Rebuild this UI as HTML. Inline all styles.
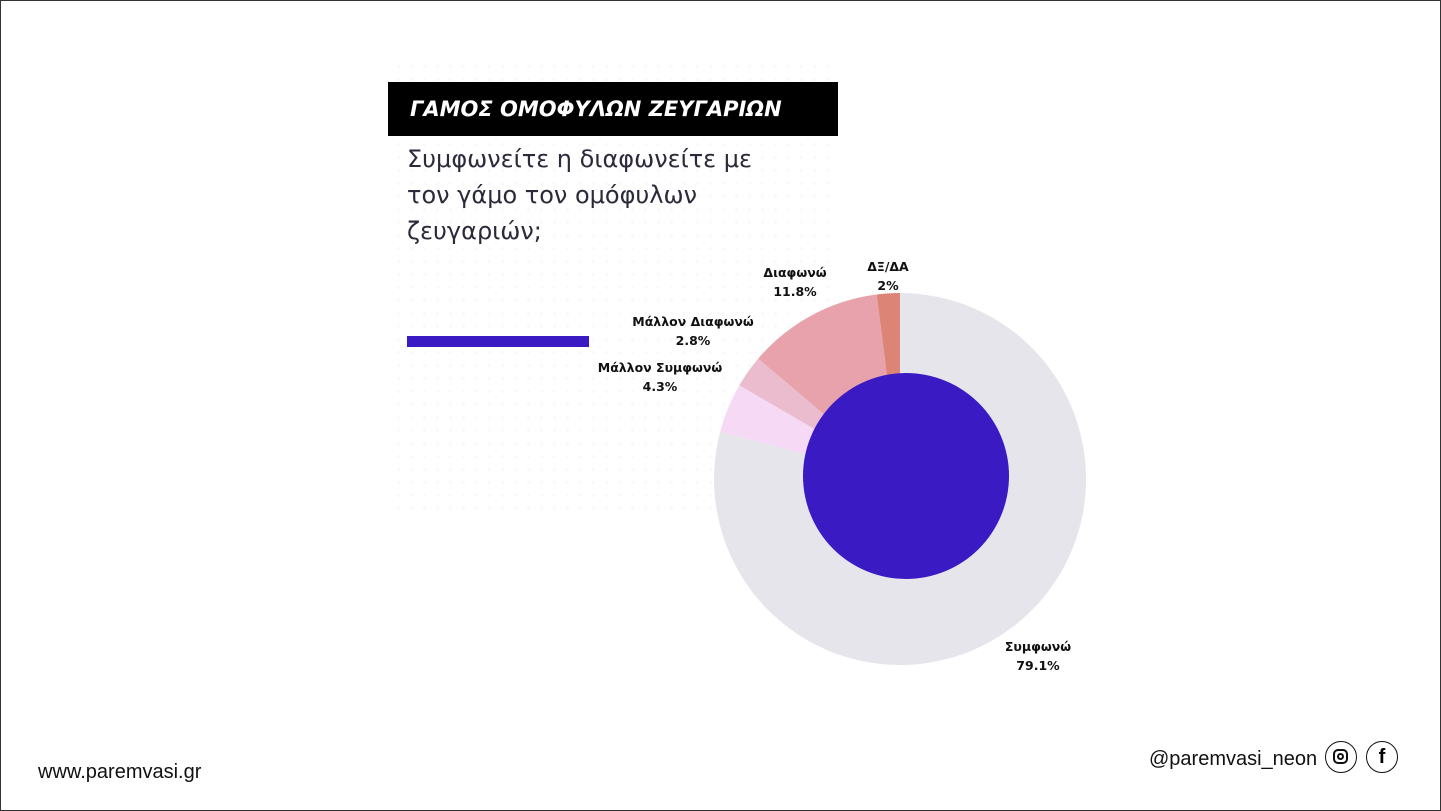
<!DOCTYPE html>
<html><head><meta charset="utf-8"><style>
html,body{margin:0;padding:0;}
body{width:1441px;height:811px;position:relative;background:#fff;overflow:hidden;font-family:"Liberation Sans","DejaVu Sans",sans-serif;}
.frame{position:absolute;left:0;top:0;width:1439px;height:809px;border:1px solid #333;}
.bg{position:absolute;left:392px;top:60px;width:446px;height:460px;background:radial-gradient(circle,#f1f1f3 1.5px,transparent 2px) 0 0/13px 13px;opacity:.4;}
.title{position:absolute;left:388px;top:82px;width:450px;height:54px;background:#000;color:#fff;font-family:"DejaVu Sans",sans-serif;font-weight:bold;font-style:italic;font-size:21px;line-height:54px;padding-left:22px;box-sizing:border-box;}
.sub{position:absolute;left:407px;top:141px;font-family:"DejaVu Sans",sans-serif;font-size:24px;line-height:36px;color:#2a2a3a;}
.bar{position:absolute;left:407px;top:336px;width:182px;height:11px;background:#3a1ac3;}
.lbl{position:absolute;font-family:"DejaVu Sans",sans-serif;font-weight:bold;font-size:12.5px;line-height:19px;text-align:center;color:#111;transform:translateX(-50%);white-space:nowrap;}
.ft{position:absolute;font-size:20px;color:#111;}
.ic{position:absolute;top:741px;width:32px;height:32px;border:1.5px solid #111;border-radius:50%;box-sizing:border-box;}
</style></head><body>
<div class="frame"></div>
<div class="bg"></div>
<div class="title">ΓΑΜΟΣ ΟΜΟΦΥΛΩΝ ΖΕΥΓΑΡΙΩΝ</div>
<div class="sub">Συμφωνείτε η διαφωνείτε με<br>τον γάμο τον ομόφυλων<br>ζευγαριών;</div>
<div class="bar"></div>
<svg style="position:absolute;left:0;top:0" width="1441" height="811">
<path d="M900,479 L900,293 A186,186 0 1 1 720.2,431.6 Z" fill="#e6e5ec"/>
<path d="M900,479 L720.2,431.6 A186,186 0 0 1 739.3,385.3 Z" fill="#f6d9f4"/>
<path d="M900,479 L739.3,385.3 A186,186 0 0 1 758.2,358.6 Z" fill="#ebbccd"/>
<path d="M900,479 L758.2,358.6 A186,186 0 0 1 876.7,294.5 Z" fill="#e8a2ac"/>
<path d="M900,479 L876.7,294.5 A186,186 0 0 1 900,293 Z" fill="#dc8577"/>
<circle cx="906" cy="476" r="103" fill="#3a1ac3"/>
</svg>
<div class="lbl" style="left:795px;top:263px">Διαφωνώ<br>11.8%</div>
<div class="lbl" style="left:888px;top:257px">ΔΞ/ΔΑ<br>2%</div>
<div class="lbl" style="left:693px;top:312px">Μάλλον Διαφωνώ<br>2.8%</div>
<div class="lbl" style="left:660px;top:358px">Μάλλον Συμφωνώ<br>4.3%</div>
<div class="lbl" style="left:1038px;top:637px">Συμφωνώ<br>79.1%</div>
<div class="ft" style="left:38px;top:761px">www.paremvasi.gr</div>
<div class="ft" style="left:1149px;top:748px">@paremvasi_neon</div>
<div class="ic" style="left:1325px"><div style="position:absolute;left:7px;top:7px;width:15px;height:15px;border:2px solid #111;border-radius:5px;box-sizing:border-box"></div><div style="position:absolute;left:11px;top:11px;width:7px;height:7px;border:2px solid #111;border-radius:50%;box-sizing:border-box"></div></div>
<div class="ic" style="left:1366px;font-weight:bold;font-size:20px;text-align:center;line-height:30px">f</div>
</body></html>
